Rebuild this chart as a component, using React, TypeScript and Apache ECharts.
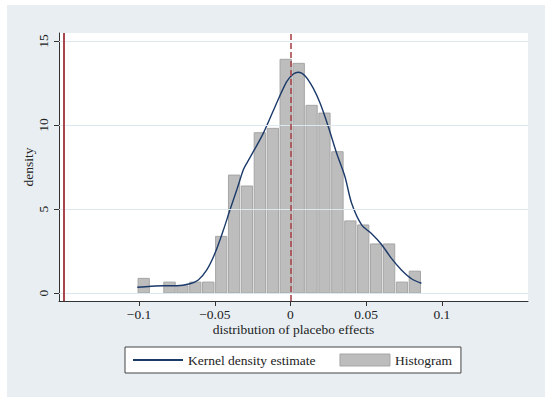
import React, { useEffect, useRef } from "react";
import * as echarts from "echarts";

// Histogram bin edges (left edge of each bin, plus final right edge)
const binEdges = [
  -0.1012, -0.0927, -0.0842, -0.0756, -0.0671, -0.0586, -0.05, -0.0415,
  -0.033, -0.0245, -0.0159, -0.0074, 0.0011, 0.0097, 0.0182, 0.0267,
  0.0353, 0.0438, 0.0523, 0.0608, 0.0694, 0.0779, 0.0864,
];
// Histogram density per bin
const binHeights = [
  0.87, 0, 0.65, 0.43, 0.65, 0.65, 3.37, 7.02, 6.37, 9.54, 9.8, 13.91,
  13.67, 11.17, 10.71, 8.41, 4.29, 4.05, 2.92, 2.92, 0.65, 1.3,
];
// Kernel density estimate, x values and density values
const kdeX = [
  -0.1012, -0.092, -0.084, -0.0752, -0.0664, -0.0609, -0.0553, -0.0499,
  -0.0443, -0.04, -0.0355, -0.0312, -0.0289, -0.024, -0.018, -0.0102,
  -0.0025, 0.0019, 0.0052, 0.0097, 0.0151, 0.0196, 0.025, 0.0305, 0.036,
  0.0404, 0.047, 0.0533, 0.06, 0.0667, 0.0733, 0.0799, 0.0865,
];
const kdeY = [
  0.34, 0.4, 0.43, 0.43, 0.55, 0.77, 1.37, 2.36, 3.75, 4.94, 6.13, 7.32,
  7.72, 8.5, 9.5, 11.09, 12.58, 13.04, 13.14, 12.92, 12.18, 11.29, 9.9,
  8.32, 6.92, 5.34, 4.05, 3.55, 2.9, 2.06, 1.37, 0.85, 0.58,
];
// Reference lines
const actualEffect = -0.1472;
const zeroLine = 0;
// Axis ticks
const xTicks = [-0.1, -0.05, 0, 0.05, 0.1];
const yTicks = [0, 5, 10, 15];

const FONT = "Liberation Serif";

export default function App() {
  const ref = useRef<HTMLDivElement>(null);
  useEffect(() => {
    if (!ref.current) return;
    const chart = echarts.init(ref.current, undefined, { renderer: "svg" });
    const histData = binHeights
      .map((h, i) => [binEdges[i], binEdges[i + 1], h])
      .filter((d) => d[2] > 0);
    const kdeData = kdeX.map((x, i) => [x, kdeY[i]]);
    const fmt = (v: number) => String(v).replace("-", "\u2212");
    chart.setOption({
      animation: false,
      backgroundColor: "#e8eef2",
      textStyle: { fontFamily: FONT },
      grid: {
        left: 52,
        top: 28,
        width: 469,
        height: 268,
        show: true,
        backgroundColor: "#ffffff",
        borderWidth: 0,
      },
      legend: {
        left: 118,
        top: 342,
        orient: "horizontal",
        backgroundColor: "#ffffff",
        borderColor: "#444444",
        borderWidth: 1,
        borderRadius: 0,
        padding: [6, 9, 6, 7],
        itemGap: 24,
        itemWidth: 50,
        itemHeight: 12,
        textStyle: { fontFamily: FONT, fontSize: 13.5, color: "#222" },
        data: [
          {
            name: "Kernel density estimate",
            itemStyle: { opacity: 0 },
          },
          {
            name: "Histogram",
            icon: "rect",
            itemStyle: { color: "#bdbdbd", borderColor: "#a5a5a5", borderWidth: 1 },
          },
        ],
        selectedMode: false,
      },
      xAxis: {
        type: "value",
        min: -0.1529,
        max: 0.1569,
        name: "distribution of placebo effects",
        nameLocation: "middle",
        nameGap: 21,
        nameMoveOverlap: false,
        nameTextStyle: { fontFamily: FONT, fontSize: 13.5, color: "#222" },
        splitLine: { show: false },
        axisLine: { onZero: false, lineStyle: { color: "#333", width: 1 } },
        axisTick: { show: true, length: 5, customValues: xTicks, lineStyle: { color: "#333" } },
        axisLabel: {
          customValues: xTicks,
          formatter: fmt,
          margin: 6,
          fontFamily: FONT,
          fontSize: 13.5,
          color: "#222",
        },
      },
      yAxis: {
        type: "value",
        min: -0.476,
        max: 15.476,
        name: "density",
        nameLocation: "middle",
        nameRotate: 90,
        nameGap: 24,
        nameMoveOverlap: false,
        nameTextStyle: { fontFamily: FONT, fontSize: 13.5, color: "#222" },
        splitLine: { show: false },
        axisLine: { show: true, onZero: false, lineStyle: { color: "#333", width: 1 } },
        axisTick: { show: true, length: 5, customValues: yTicks, lineStyle: { color: "#333" } },
        axisLabel: {
          customValues: yTicks,
          rotate: 90,
          margin: 9,
          fontFamily: FONT,
          fontSize: 13.5,
          color: "#222",
        },
      },
      series: [
        {
          type: "line",
          name: "grid",
          data: [],
          z: 1,
          silent: true,
          markLine: {
            silent: true,
            symbol: "none",
            label: { show: false },
            lineStyle: { color: "#dce7ee", width: 1, type: "solid" },
            data: yTicks.map((v) => ({ yAxis: v })),
          },
        },
        {
          type: "custom",
          name: "Histogram",
          z: 2,
          itemStyle: { color: "#bdbdbd", borderColor: "#a5a5a5" },
          encode: { x: [0, 1], y: 2 },
          renderItem: (params: any, api: any) => {
            const x0 = api.value(0);
            const x1 = api.value(1);
            const h = api.value(2);
            const p0 = api.coord([x0, h]);
            const p1 = api.coord([x1, 0]);
            return {
              type: "rect",
              shape: {
                x: p0[0] + 0.8,
                y: p0[1],
                width: p1[0] - p0[0] - 1.6,
                height: p1[1] - p0[1],
              },
              style: { fill: "#bdbdbd", stroke: "#a5a5a5", lineWidth: 1 },
            };
          },
          data: histData,
        },
        {
          type: "line",
          name: "Kernel density estimate",
          z: 3,
          data: kdeData,
          smooth: 0.3,
          symbol: "none",
          showSymbol: false,
          color: "#1b3a6a",
          lineStyle: { color: "#1b3a6a", width: 1.4 },
          markLine: {
            silent: true,
            symbol: "none",
            label: { show: false },
            lineStyle: { color: "#a8474b", width: 2 },
            data: [
              { xAxis: actualEffect, lineStyle: { type: "solid", color: "#a8474b", width: 2 } },
              { xAxis: zeroLine, lineStyle: { type: [6, 3], color: "#a8474b", width: 1.6 } },
            ],
          },
        },
      ],
    });
    return () => chart.dispose();
  }, []);
  return (
    <div
      style={{
        position: "absolute",
        left: 0,
        top: 0,
        width: 550,
        height: 401,
        background: "#ffffff",
      }}
    >
      <div
        ref={ref}
        style={{ position: "absolute", left: 7, top: 5, width: 538, height: 392 }}
      />
    </div>
  );
}
